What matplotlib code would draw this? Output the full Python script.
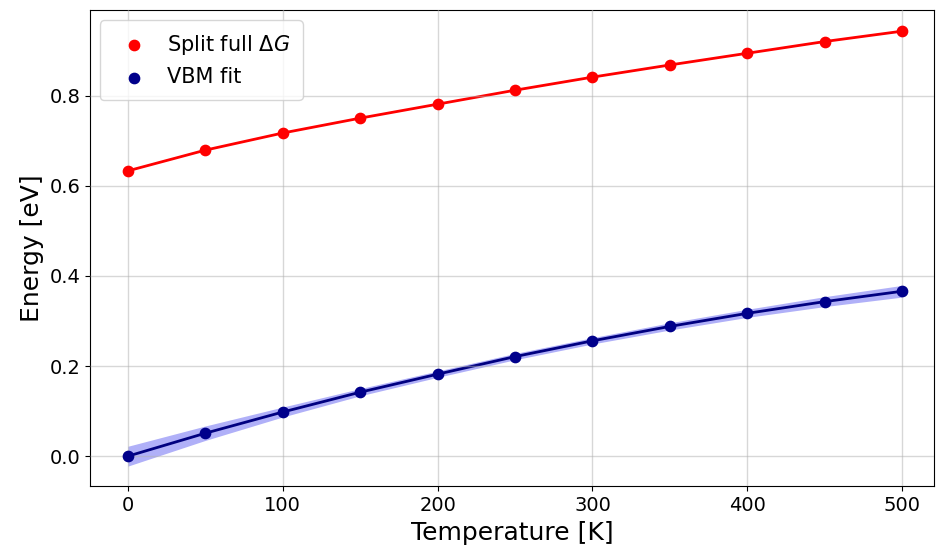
import numpy as np
import matplotlib
matplotlib.use("Agg")
import matplotlib.pyplot as plt

temperature = [0, 50, 100, 150, 200, 250, 300, 350, 400, 450, 500]
split_full_dG = [0.633, 0.679, 0.717, 0.750, 0.781, 0.812, 0.841, 0.868, 0.894, 0.920, 0.943]
vbm_fit = [0.000, 0.051, 0.098, 0.142, 0.182, 0.221, 0.256, 0.288, 0.317, 0.343, 0.366]
vbm_err = [0.022, 0.016, 0.011, 0.008, 0.007, 0.007, 0.007, 0.008, 0.009, 0.011, 0.013]

fig, ax = plt.subplots(figsize=(9.36, 5.54), dpi=100)
fig.subplots_adjust(left=0.096, right=0.998, top=0.982, bottom=0.122)

T = np.array(temperature)
v = np.array(vbm_fit)
e = np.array(vbm_err)

ax.plot(T, split_full_dG, color="red", lw=2, zorder=2)
ax.scatter(T, split_full_dG, color="red", s=55, zorder=3, label=r"Split full $\Delta G$")
ax.fill_between(T, v - e, v + e, color="#b0b0f8", lw=0, zorder=1)
ax.plot(T, v, color="#000080", lw=2, zorder=2)
ax.scatter(T, v, color="#00008b", s=55, zorder=3, label="VBM fit")

ax.grid(True, color="#b0b0b0", alpha=0.5, lw=1, zorder=4)
ax.set_axisbelow(False)
ax.set_xlim(-24.5, 520.6)
ax.set_ylim(-0.067, 0.99)
ax.set_xticks([0, 100, 200, 300, 400, 500])
ax.set_yticks([0.0, 0.2, 0.4, 0.6, 0.8])
ax.tick_params(labelsize=14)
ax.set_xlabel("Temperature [K]", fontsize=18)
ax.set_ylabel("Energy [eV]", fontsize=18)
ax.legend(loc="upper left", fontsize=15, borderpad=0.6, handletextpad=0.6)

fig.savefig("out.png", dpi=100)
